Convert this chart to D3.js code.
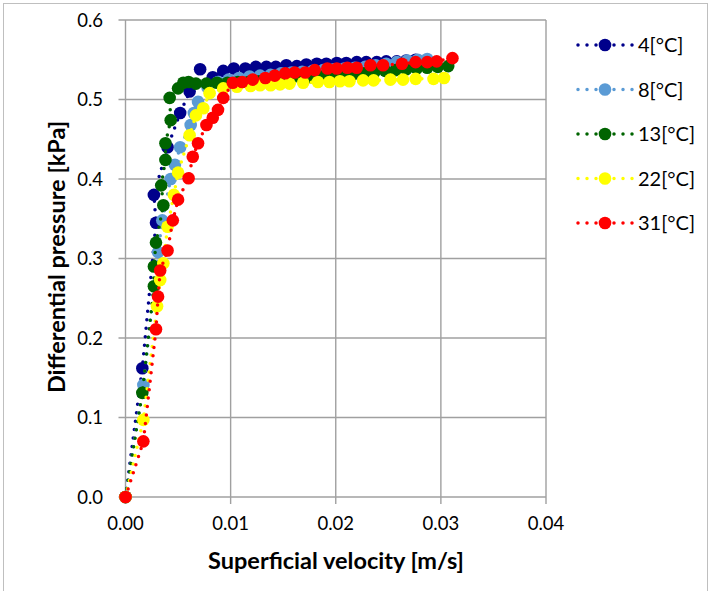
<!DOCTYPE html>
<html><head><meta charset="utf-8">
<script src="https://cdn.jsdelivr.net/npm/d3@7"></script>
<style>
body{margin:0;background:#fff;}
svg text{font-family:Lato,"Open Sans",sans-serif;fill:#000;}
</style></head>
<body><svg id="c" width="711" height="591"></svg>
<script>
const seriesNames = ["4[°C]","8[°C]","13[°C]","22[°C]","31[°C]"];
const seriesColors = ["#00008B","#5B9BD5","#006400","#FFFF00","#FF0000"];

const v4 = [0,0.0016,0.0029,0.0027,0.0040,0.0052,0.0061,0.0071,0.0083,0.0093,0.0103,0.0114,0.0124,0.0134,0.0143,0.0153,0.0163,0.0172,0.0182,0.0191,0.0201,0.0210,0.0220,0.0229,0.0239,0.0248,0.0258,0.0267,0.0276];
const p4 = [0,0.162,0.345,0.38,0.44,0.483,0.51,0.538,0.528,0.536,0.539,0.539,0.541,0.541,0.541,0.543,0.542,0.544,0.545,0.545,0.546,0.546,0.547,0.547,0.547,0.548,0.548,0.549,0.550];

const v8 = [0,0.0017,0.0031,0.0035,0.0043,0.0047,0.0052,0.0062,0.0065,0.0069,0.0078,0.0088,0.0098,0.0108,0.0118,0.0128,0.0138,0.0148,0.0158,0.0168,0.0178,0.0188,0.0198,0.0208,0.0218,0.0228,0.0238,0.0248,0.0258,0.0268,0.0278,0.0287];
const p8 = [0,0.141,0.308,0.348,0.40,0.418,0.44,0.468,0.483,0.497,0.515,0.522,0.525,0.527,0.529,0.530,0.531,0.533,0.534,0.535,0.536,0.537,0.538,0.539,0.540,0.541,0.543,0.545,0.547,0.549,0.550,0.551];

const v13 = [0,0.0016,0.0027,0.0027,0.0029,0.0036,0.0034,0.0038,0.0038,0.0043,0.0042,0.0050,0.0055,0.0060,0.0067,0.0077,0.0087,0.0097,0.0107,0.0117,0.0127,0.0137,0.0147,0.0157,0.0167,0.0177,0.0187,0.0197,0.0207,0.0217,0.0227,0.0237,0.0247,0.0257,0.0267,0.0277,0.0287,0.0297,0.0307];
const p13 = [0,0.131,0.265,0.29,0.32,0.367,0.392,0.424,0.445,0.474,0.502,0.514,0.521,0.522,0.520,0.520,0.521,0.521,0.522,0.522,0.523,0.524,0.525,0.526,0.527,0.528,0.529,0.530,0.531,0.532,0.533,0.535,0.536,0.537,0.538,0.539,0.540,0.541,0.542];

const v22 = [0,0.0017,0.0030,0.0033,0.0036,0.0040,0.0046,0.0050,0.0061,0.0067,0.0074,0.0080,0.0093,0.0106,0.0119,0.0128,0.0138,0.0147,0.0156,0.0169,0.0183,0.0194,0.0204,0.0213,0.0226,0.0236,0.0252,0.0264,0.0276,0.0293,0.0303];
const p22 = [0,0.097,0.24,0.273,0.294,0.34,0.38,0.408,0.455,0.48,0.489,0.508,0.514,0.516,0.517,0.518,0.518,0.519,0.520,0.521,0.522,0.522,0.523,0.523,0.524,0.524,0.525,0.525,0.526,0.526,0.527];

const v31 = [0,0.0017,0.0029,0.0031,0.0033,0.0040,0.0045,0.0050,0.0060,0.0064,0.0069,0.0077,0.0083,0.0088,0.0093,0.0102,0.0111,0.0121,0.0133,0.0142,0.0152,0.0161,0.0171,0.0180,0.0192,0.0201,0.0211,0.0220,0.0233,0.0245,0.0263,0.0276,0.0287,0.0296,0.0311];
const p31 = [0,0.070,0.211,0.252,0.285,0.31,0.348,0.374,0.401,0.428,0.445,0.468,0.477,0.487,0.502,0.521,0.522,0.525,0.527,0.530,0.533,0.534,0.534,0.537,0.539,0.539,0.540,0.540,0.543,0.543,0.545,0.547,0.547,0.548,0.552];

const xTicks = [0,0.01,0.02,0.03,0.04];
const yTicks = [0,0.1,0.2,0.3,0.4,0.5,0.6];

const seriesV = [v4,v8,v13,v22,v31];
const seriesP = [p4,p8,p13,p22,p31];

const svg = d3.select("#c");
const L=125.5, R=546, T=20, B=497;
const x = d3.scaleLinear().domain([0,0.04]).range([L,R]);
const y = d3.scaleLinear().domain([0,0.6]).range([B,T]);

// outer border
svg.append("rect").attr("x",3.5).attr("y",3.5).attr("width",704).attr("height",590)
  .attr("fill","none").attr("stroke","#BFBFBF").attr("stroke-width",1);

const gridC = "#A0A0A0";
svg.append("g").selectAll("line").data(yTicks).join("line")
  .attr("x1",L-7).attr("x2",R).attr("y1",d=>y(d)).attr("y2",d=>y(d))
  .attr("stroke",gridC).attr("stroke-width",1.4);
svg.append("g").selectAll("line").data(xTicks).join("line")
  .attr("y1",T).attr("y2",B+7).attr("x1",d=>x(d)).attr("x2",d=>x(d))
  .attr("stroke",gridC).attr("stroke-width",1.4);

svg.append("g").selectAll("text").data(yTicks).join("text")
  .attr("x",103).attr("y",d=>y(d)).attr("dy","0.36em").attr("text-anchor","end")
  .style("font-size","18.5px").text(d=>d3.format(".1f")(d));
svg.append("g").selectAll("text").data(xTicks).join("text")
  .attr("x",d=>x(d)).attr("y",530).attr("text-anchor","middle")
  .style("font-size","18.5px").text(d=>d3.format(".2f")(d));

svg.append("text").attr("x",336).attr("y",569).attr("text-anchor","middle")
  .style("font-size","23.5px").style("font-weight","bold").text("Superficial velocity [m/s]");
svg.append("text").attr("transform","translate(65,257) rotate(-90)").attr("text-anchor","middle")
  .style("font-size","23.5px").style("font-weight","bold").text("Differential pressure [kPa]");

const line = d3.line().x(d=>x(d[0])).y(d=>y(d[1]));
seriesNames.forEach((name,i)=>{
  const pts = seriesV[i].map((v,j)=>[v,seriesP[i][j]]);
  const g = svg.append("g");
  g.append("path").attr("d",line(pts)).attr("fill","none")
    .attr("stroke",seriesColors[i]).attr("stroke-width",3.5)
    .attr("stroke-linecap","round").attr("stroke-dasharray","0 8.5");
  g.selectAll("circle").data(pts).join("circle")
    .attr("cx",d=>x(d[0])).attr("cy",d=>y(d[1])).attr("r",6.3)
    .attr("fill",seriesColors[i]);
});

const lg = svg.append("g");
seriesNames.forEach((name,i)=>{
  const yy = 45 + i*44.5;
  lg.append("line").attr("x1",578).attr("x2",633).attr("y1",yy).attr("y2",yy)
    .attr("stroke",seriesColors[i]).attr("stroke-width",3.5)
    .attr("stroke-linecap","round").attr("stroke-dasharray","0 9");
  lg.append("circle").attr("cx",605).attr("cy",yy).attr("r",6.3).attr("fill",seriesColors[i]);
  lg.append("text").attr("x",638).attr("y",yy).attr("dy","0.36em")
    .style("font-size","20px").text(name);
});
</script></body></html>
